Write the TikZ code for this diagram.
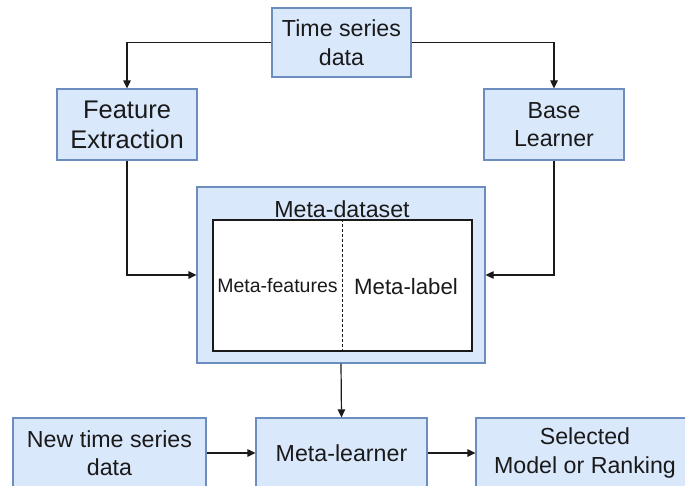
\documentclass[tikz,border=0pt]{standalone}
\usepackage{fontspec}
\setmainfont{Liberation Sans}
\usetikzlibrary{arrows.meta}
\definecolor{boxfill}{HTML}{DAE8FC}
\definecolor{boxline}{HTML}{6C8EBF}
\definecolor{ink}{HTML}{1A1A1A}
\begin{document}
\begin{tikzpicture}[x=1pt, y=-1pt,
  box/.style={draw=boxline, fill=boxfill, line width=1.2pt, inner sep=0pt,
    align=center, text=ink, font=\fontsize{23.2}{28.5}\selectfont},
  plain/.style={inner sep=0pt, text=ink, font=\fontsize{23.2}{28.5}\selectfont},
  conn/.style={draw=ink, line width=1.2pt, -{Triangle[length=8pt,width=7.5pt]}}]
\useasboundingbox (0,0) rectangle (685,486);
\clip (0,0) rectangle (685,486);

% top row
\node[box, minimum width=139pt, minimum height=69pt] (ts) at (341.5,42.5) {Time series\\data};
\node[box, minimum width=140pt, minimum height=71pt,
      font=\fontsize{25.5}{30}\selectfont] (fe) at (127,124.5) {Feature\\Extraction};
\node[box, minimum width=140pt, minimum height=71pt] (bl) at (554,124.5) {Base\\Learner};

% meta-dataset container with its table
\node[box, minimum width=288pt, minimum height=176pt] (md) at (341,275) {};
\node[plain] (mdtitle) at (342,209.5) {Meta-dataset};
\node[draw=ink, fill=white, line width=1.2pt, minimum width=259pt, minimum height=131pt] (tab) at (342.5,285.5) {};
\draw[ink, line width=1pt, dash pattern=on 3pt off 2pt] (tab.north) -- (tab.south);
\node[plain, font=\fontsize{19.5}{24}\selectfont] (mf) at (277.5,286) {Meta-features};
\node[plain, font=\fontsize{22.2}{27}\selectfont] (mlab) at (406,287) {Meta-label};

% bottom row
\node[box, minimum width=193pt, minimum height=70pt] (nt) at (109.5,453) {New time series\\data};
\node[box, minimum width=171pt, minimum height=70pt] (mln) at (341.5,453) {Meta-learner};
\node[box, minimum width=218pt, minimum height=70pt] (sm) at (585,453) {Selected\\Model or Ranking};

% connectors
\draw[conn] (ts.west) -| (fe.north);
\draw[conn] (ts.east) -| (bl.north);
\draw[conn] (fe.south) |- (md.west);
\draw[conn] (bl.south) |- (md.east);
\draw[conn] (md.south) -- (mln.north);
\draw[conn] (nt) -- (mln);
\draw[conn] (mln) -- (sm);
\end{tikzpicture}
\end{document}
